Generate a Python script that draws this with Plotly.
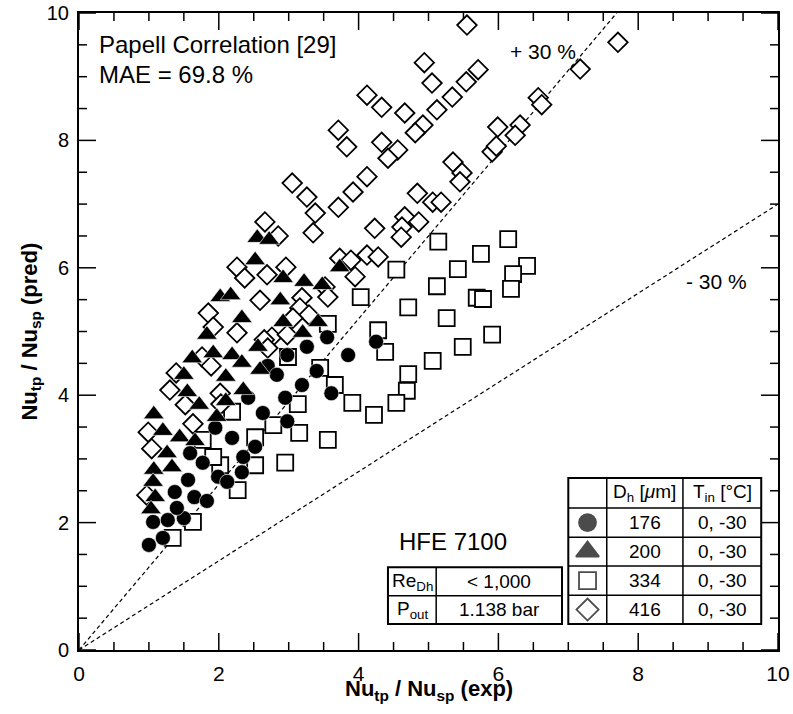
import plotly.graph_objects as go

# ---------------- data ----------------
circ_x = [1.00, 1.20, 1.06, 1.27, 1.50, 1.40, 1.37, 1.56, 1.65, 1.83,
          1.77, 1.99, 2.12, 2.33, 2.35, 2.52, 2.19, 1.59, 1.95, 2.63,
          2.42, 3.55, 3.26, 2.98, 3.85, 4.25, 3.40, 2.70, 2.83, 3.19,
          3.61, 2.95, 2.98]
circ_y = [1.65, 1.76, 2.01, 2.04, 2.07, 2.23, 2.48, 2.67, 2.40, 2.34,
          2.94, 2.72, 2.64, 2.79, 3.03, 3.19, 3.33, 3.09, 3.49, 3.72,
          3.96, 4.91, 4.76, 4.63, 4.63, 4.84, 4.38, 4.46, 4.32, 4.16,
          4.03, 3.96, 3.59]

tri_x = [2.55, 2.72, 2.52, 2.02, 2.17, 2.88, 2.33, 1.83, 1.62, 1.92,
         2.19, 2.33, 2.10, 1.50, 1.55, 1.72, 2.10, 2.35, 2.92, 3.22,
         3.48, 2.92, 3.42, 3.20, 2.56, 2.59, 3.73, 1.07, 1.20, 1.44,
         1.66, 1.97, 1.26, 1.07, 1.33, 1.09, 1.03, 1.06]
tri_y = [6.47, 6.44, 6.12, 5.54, 5.57, 5.49, 5.21, 4.95, 4.58, 4.66,
         4.63, 4.51, 4.29, 4.32, 4.05, 3.85, 3.91, 4.08, 5.84, 5.78,
         5.73, 5.15, 5.15, 4.98, 4.76, 4.40, 6.01, 3.70, 3.44, 3.34,
         3.28, 3.66, 3.09, 2.83, 2.87, 2.40, 2.21, 2.64]

sq_x = [5.14, 6.14, 5.75, 6.41, 6.21, 5.42, 4.54, 5.12, 6.18, 5.69,
        5.78, 4.03, 4.71, 5.26, 5.91, 5.49, 4.28, 4.38, 5.06, 4.71,
        4.69, 4.54, 3.91, 3.66, 3.45, 4.22, 3.13, 3.15, 3.56, 2.95,
        2.78, 2.52, 2.52, 2.27, 2.02, 1.92, 1.77, 2.19, 1.63, 1.34,
        3.56, 2.99]
sq_y = [6.41, 6.45, 6.22, 6.03, 5.90, 5.98, 5.97, 5.71, 5.67, 5.53,
        5.51, 5.54, 5.38, 5.21, 4.95, 4.76, 5.02, 4.68, 4.54, 4.33,
        4.07, 3.88, 3.88, 4.16, 4.43, 3.69, 3.86, 3.41, 3.30, 2.94,
        3.53, 3.34, 2.90, 2.51, 2.90, 3.03, 3.30, 3.74, 2.01, 1.76,
        5.12, 4.60]

dia_x = [5.55, 7.71, 7.17, 4.94, 5.05, 5.54, 5.71, 5.34, 5.12, 4.92,
         4.66, 4.81, 4.33, 4.33, 4.56, 4.42, 6.57, 6.62, 5.99, 6.31,
         6.24, 5.91, 5.97, 5.35, 5.48, 5.45, 4.12, 3.71, 3.83, 4.12,
         3.92, 3.71, 3.05, 3.26, 3.38, 3.35, 2.66, 2.85, 4.23, 4.66,
         4.86, 4.62, 4.61, 4.84, 5.06, 5.18, 3.73, 3.89, 4.12, 4.28,
         3.95, 3.52, 3.56, 2.26, 2.37, 2.69, 2.96, 2.59, 1.85, 1.92,
         2.26, 3.19, 3.16, 3.29, 3.06, 2.76, 2.98, 2.65, 2.70, 1.76,
         1.89, 1.39, 1.30, 2.02, 1.52, 0.99, 1.04, 1.63, 2.03, 0.97]
dia_y = [9.81, 9.54, 9.12, 9.22, 8.90, 8.92, 9.11, 8.68, 8.48, 8.24,
         8.43, 8.12, 8.52, 7.97, 7.85, 7.72, 8.67, 8.56, 8.21, 8.24,
         8.08, 7.82, 7.91, 7.66, 7.49, 7.35, 8.71, 8.16, 7.90, 7.43,
         7.19, 6.95, 7.33, 7.11, 6.86, 6.55, 6.72, 6.50, 6.62, 6.80,
         6.72, 6.64, 6.48, 7.17, 7.03, 7.03, 6.15, 6.12, 6.20, 6.17,
         5.86, 5.70, 5.54, 6.01, 5.84, 5.89, 6.01, 5.49, 5.29, 5.07,
         4.98, 5.53, 5.37, 5.26, 5.21, 4.91, 4.95, 4.87, 4.74, 4.60,
         4.46, 4.35, 4.08, 4.03, 3.85, 3.42, 3.16, 3.55, 3.86, 2.43]

dh_labels = ["176", "200", "334", "416"]
tin_labels = ["0, -30", "0, -30", "0, -30", "0, -30"]
band_up = 1.30   # +30 %
band_dn = 0.70   # -30 %
axis_max = 10
major_step = 2
minor_step = 0.5

FONT = "Liberation Sans, Arial, sans-serif"
NARROW = "Liberation Sans Narrow, Liberation Sans, Arial, sans-serif"
BLACK = "black"

W, H = 793, 714
ML, MR, MT, MB = 79, 15, 13, 64
PW, PH = W - ML - MR, H - MT - MB

fig = go.Figure()

# ---------------- inside ticks on all four sides (drawn as one line trace) ----------------
def tick_positions(step):
    n = int(round(axis_max / step))
    return [i * step for i in range(n + 1)]

maj = tick_positions(major_step)
mnr = [v for v in tick_positions(minor_step) if v not in maj]
tk_x, tk_y = [], []
for vals, length in ((maj, 17), (mnr, 8)):
    lx_ = length / PW * axis_max   # tick length in x units
    ly_ = length / PH * axis_max   # tick length in y units
    for v in vals:
        tk_x += [v, v, None, v, v, None, 0, lx_, None, axis_max, axis_max - lx_, None]
        tk_y += [0, ly_, None, axis_max, axis_max - ly_, None, v, v, None, v, v, None]
fig.add_trace(go.Scatter(x=tk_x, y=tk_y, mode="lines", line=dict(color=BLACK, width=1.5),
                         hoverinfo="skip", showlegend=False, cliponaxis=False,
                         connectgaps=False))

dash_line = dict(color=BLACK, width=1.2, dash="4px,3px")
fig.add_trace(go.Scatter(x=[0, axis_max / band_up], y=[0, axis_max], mode="lines",
                         line=dash_line, hoverinfo="skip", showlegend=False))
fig.add_trace(go.Scatter(x=[0, axis_max], y=[0, axis_max * band_dn], mode="lines",
                         line=dash_line, hoverinfo="skip", showlegend=False))

open_line = dict(color=BLACK, width=1.8)
fig.add_trace(go.Scatter(x=sq_x, y=sq_y, mode="markers", showlegend=False,
                         marker=dict(symbol="square", size=16, color="white", line=open_line)))
fig.add_trace(go.Scatter(x=dia_x, y=dia_y, mode="markers", showlegend=False,
                         marker=dict(symbol="diamond", size=15, color="white", line=open_line)))
fig.add_trace(go.Scatter(x=circ_x, y=circ_y, mode="markers", showlegend=False,
                         marker=dict(symbol="circle", size=15, color=BLACK,
                                     line=dict(color="white", width=0.6))))
fig.add_trace(go.Scatter(x=tri_x, y=tri_y, mode="markers", showlegend=False,
                         marker=dict(symbol="triangle-up", size=18, color=BLACK,
                                     line=dict(color="white", width=0.6))))

shapes = []

# ---------------- legend table (right) ----------------
tx = [7.00, 7.55, 8.64, 9.76]
ty = [2.70, 2.23, 1.77, 1.32, 0.86, 0.41]
bw = 1.5
shapes.append(dict(type="rect", xref="x", yref="y", x0=tx[0], x1=tx[3], y0=ty[5], y1=ty[0],
                   line=dict(color=BLACK, width=2), fillcolor="white", layer="below"))
for xv in tx[1:3]:
    shapes.append(dict(type="line", xref="x", yref="y", x0=xv, x1=xv, y0=ty[5], y1=ty[0],
                       line=dict(color=BLACK, width=bw)))
for yv in ty[1:5]:
    shapes.append(dict(type="line", xref="x", yref="y", x0=tx[0], x1=tx[3], y0=yv, y1=yv,
                       line=dict(color=BLACK, width=bw)))

# left small table
lx = [4.42, 5.11, 6.91]
ly = [1.30, 0.85, 0.41]
shapes.append(dict(type="rect", xref="x", yref="y", x0=lx[0], x1=lx[2], y0=ly[2], y1=ly[0],
                   line=dict(color=BLACK, width=2), fillcolor="white", layer="below"))
shapes.append(dict(type="line", xref="x", yref="y", x0=lx[1], x1=lx[1], y0=ly[2], y1=ly[0],
                   line=dict(color=BLACK, width=bw)))
shapes.append(dict(type="line", xref="x", yref="y", x0=lx[0], x1=lx[2], y0=ly[1], y1=ly[1],
                   line=dict(color=BLACK, width=bw)))

row_c = [(ty[i] + ty[i + 1]) / 2 for i in range(5)]
c0 = (tx[0] + tx[1]) / 2
c1 = (tx[1] + tx[2]) / 2
c2 = (tx[2] + tx[3]) / 2

fig.add_trace(go.Scatter(
    x=[c0] * 4, y=row_c[1:], mode="markers", showlegend=False, hoverinfo="skip", cliponaxis=False,
    marker=dict(symbol=["circle", "triangle-up", "square-open", "diamond-open"],
                size=[17, 20, 17, 17], color=BLACK, line=dict(color=BLACK, width=1.8))))

ann = []
tf = dict(family=FONT, size=19, color=BLACK)
ann.append(dict(x=c1, y=row_c[0], text="D<sub>h</sub> [<i>μ</i>m]", showarrow=False, font=tf))
ann.append(dict(x=c2, y=row_c[0], text="T<sub>in</sub> [°C]", showarrow=False, font=tf))
for i in range(4):
    ann.append(dict(x=c1, y=row_c[i + 1], text=dh_labels[i], showarrow=False, font=tf))
    ann.append(dict(x=c2, y=row_c[i + 1], text=tin_labels[i], showarrow=False, font=tf))

lc0 = (lx[0] + lx[1]) / 2
lc1 = (lx[1] + lx[2]) / 2
lr0 = (ly[0] + ly[1]) / 2
lr1 = (ly[1] + ly[2]) / 2
ann.append(dict(x=lc0, y=lr0, text="Re<sub>Dh</sub>", showarrow=False, font=tf))
ann.append(dict(x=lc1, y=lr0, text="&lt; 1,000", showarrow=False, font=tf))
ann.append(dict(x=lc0, y=lr1, text="P<sub>out</sub>", showarrow=False, font=tf))
ann.append(dict(x=lc1, y=lr1, text="1.138 bar", showarrow=False, font=tf))

big = dict(family=FONT, size=24, color=BLACK)
ann.append(dict(x=5.35, y=1.71, text="HFE 7100", showarrow=False, font=big))
ann.append(dict(x=0.26, y=9.50, text="Papell Correlation [29]", showarrow=False, font=big,
                xanchor="left"))
ann.append(dict(x=0.26, y=9.04, text="MAE = 69.8 %", showarrow=False, font=big, xanchor="left"))
mid = dict(family=FONT, size=21, color=BLACK)
ann.append(dict(x=6.64, y=9.40, text="+ 30 %", showarrow=False, font=mid))
ann.append(dict(x=9.12, y=5.78, text="- 30 %", showarrow=False, font=mid))

# axis titles
ttl = dict(family=NARROW, size=22, color=BLACK)
ann.append(dict(xref="paper", yref="paper", x=0.5, y=-0.063, yanchor="middle",
                text="<b>Nu<sub>tp</sub> / Nu<sub>sp</sub> (exp)</b>", showarrow=False, font=ttl))
ann.append(dict(xref="paper", yref="paper", x=-0.070, y=0.5, xanchor="center", textangle=-90,
                text="<b>Nu<sub>tp</sub> / Nu<sub>sp</sub> (pred)</b>", showarrow=False, font=ttl))

axis_common = dict(range=[0, axis_max], dtick=major_step, tick0=0, ticks="",
                   mirror=True, showline=True, linewidth=2,
                   linecolor=BLACK, showgrid=False, zeroline=False, automargin=False)

fig.update_layout(
    width=W, height=H,
    margin=dict(l=ML, r=MR, t=MT, b=MB, autoexpand=False),
    paper_bgcolor="white", plot_bgcolor="white",
    xaxis=dict(**axis_common, ticklabelstandoff=4,
               tickfont=dict(family=NARROW, size=21, color=BLACK)),
    yaxis=dict(**axis_common, ticklabelstandoff=4,
               tickfont=dict(family=FONT, size=20, color=BLACK)),
    shapes=shapes, annotations=ann, showlegend=False,
)

fig.write_html("out.html")
